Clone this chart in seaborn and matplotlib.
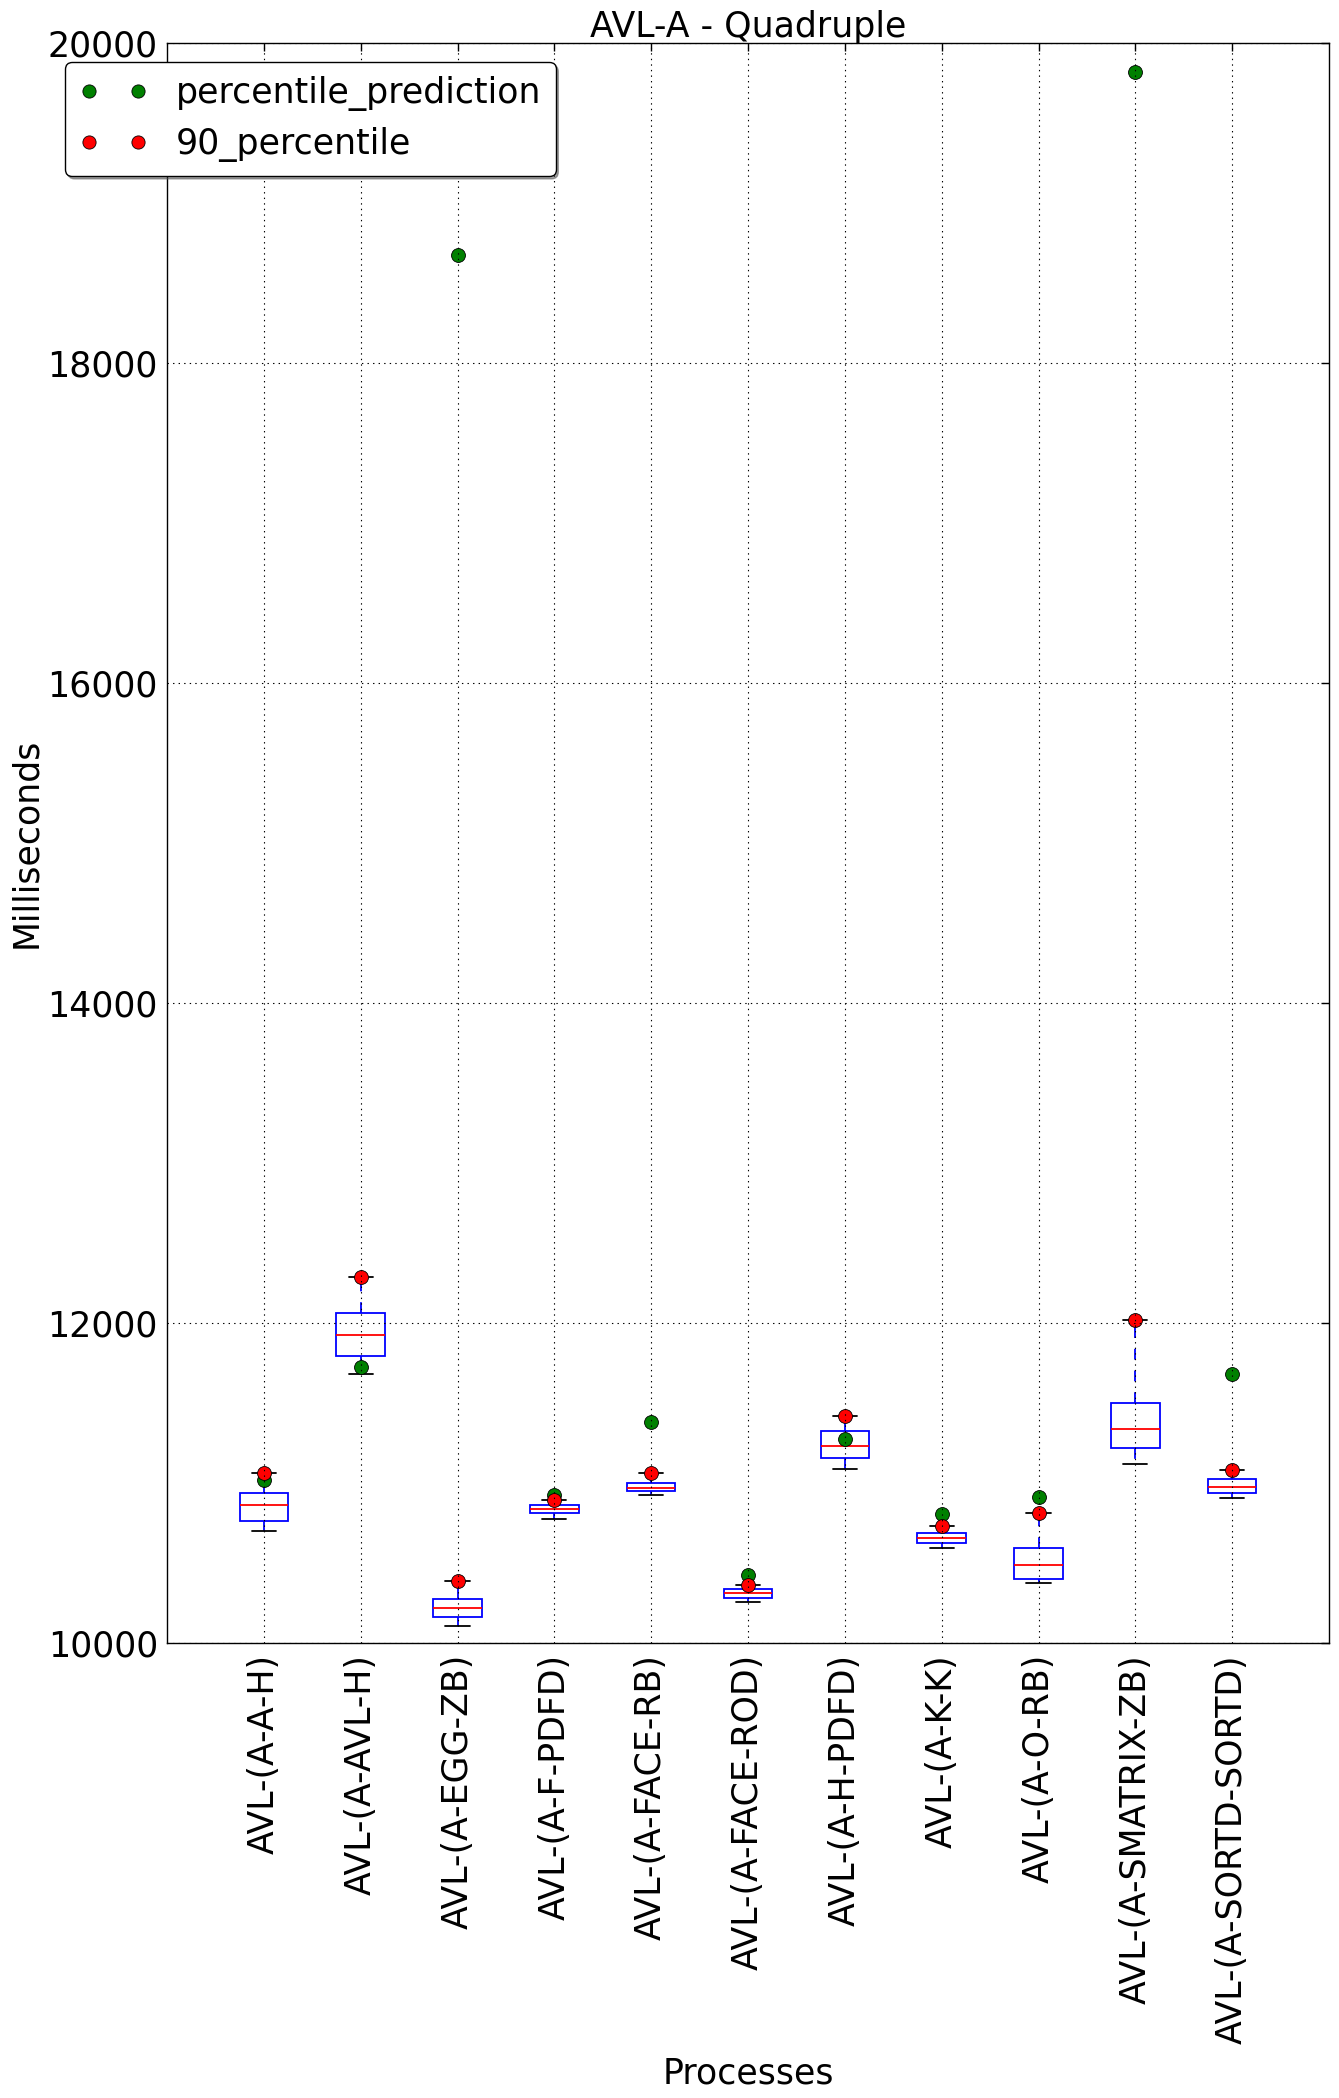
import numpy as np
import pandas as pd
import matplotlib
matplotlib.use("Agg")
import matplotlib.pyplot as plt
from matplotlib.lines import Line2D
import seaborn as sns

# ---------------- data ----------------
processes = [
    "AVL-(A-A-H)", "AVL-(A-AVL-H)", "AVL-(A-EGG-ZB)", "AVL-(A-F-PDFD)",
    "AVL-(A-FACE-RB)", "AVL-(A-FACE-ROD)", "AVL-(A-H-PDFD)", "AVL-(A-K-K)",
    "AVL-(A-O-RB)", "AVL-(A-SMATRIX-ZB)", "AVL-(A-SORTD-SORTD)",
]
whisker_low = [10698, 11679, 10104, 10773, 10923, 10254, 11088, 10592, 10373, 11117, 10904]
q1 = [10760, 11792, 10160, 10810, 10948, 10279, 11154, 10623, 10398, 11221, 10935]
median = [10860, 11923, 10217, 10835, 10969, 10310, 11229, 10654, 10485, 11335, 10973]
q3 = [10935, 12060, 10273, 10860, 10998, 10335, 11323, 10685, 10596, 11498, 11023]
whisker_high = [11060, 12286, 10387, 10896, 11060, 10360, 11417, 10731, 10810, 12019, 11081]
percentile_90 = [11060, 12286, 10387, 10896, 11060, 10360, 11417, 10731, 10810, 12019, 11081]
percentile_prediction = [11019, 11723, 18673, 10923, 11381, 10427, 11273, 10806, 10910, 19819, 11681]
y_ticks = [10000, 12000, 14000, 16000, 18000, 20000]

# ---------------- style ----------------
FS = 25
sns.set_style("white")
plt.rcParams["font.family"] = ["DejaVu Sans"]
plt.rcParams["font.size"] = FS
plt.rcParams["axes.edgecolor"] = "black"
plt.rcParams["axes.linewidth"] = 1.0
plt.rcParams["text.color"] = "black"
plt.rcParams["axes.labelcolor"] = "black"
plt.rcParams["xtick.color"] = "black"
plt.rcParams["ytick.color"] = "black"

# table for seaborn boxplot: five samples per process reproduce the stats
rows = []
for p, a, b, c, d, e in zip(processes, whisker_low, q1, median, q3, whisker_high):
    for v in (a, b, c, d, e):
        rows.append({"process": p, "ms": v})
df = pd.DataFrame(rows)

fig = plt.figure(figsize=(13.39, 20.98), dpi=100)
ax = fig.add_axes([167 / 1339, 1 - 1643 / 2098, (1329 - 167) / 1339, 1600 / 2098])

sns.boxplot(
    data=df, x="process", y="ms", order=processes, ax=ax,
    width=0.5, whis=(0, 100), fill=True, linewidth=1.3,
    boxprops=dict(facecolor="none", edgecolor="blue", linewidth=1.3),
    medianprops=dict(color="red", linewidth=1.3),
    whiskerprops=dict(color="blue", linestyle=(0, (6, 6)), linewidth=1.3),
    capprops=dict(color="black", linewidth=1.3),
    showfliers=False,
)

sns.stripplot(
    x=processes, y=percentile_prediction, order=processes, jitter=False,
    color="green", size=10, edgecolor="black", linewidth=0.6,
    ax=ax, zorder=2.3,
)
sns.stripplot(
    x=processes, y=percentile_90, order=processes, jitter=False,
    color="red", size=10, edgecolor="black", linewidth=0.6,
    ax=ax, zorder=2.4,
)

ax.set_xlim(-1, len(processes))
ax.set_ylim(10000, 20000)
ax.set_yticks(y_ticks)
ax.set_yticklabels([str(t) for t in y_ticks])
ax.set_xticks(range(len(processes)))
ax.set_xticklabels(processes, rotation=90)

ax.set_axisbelow(False)
ax.grid(True, which="major", axis="both", linestyle=(0, (1.25, 3.75)),
        color="black", linewidth=0.8)
ax.tick_params(axis="both", which="major", direction="in", length=6, width=1,
               top=True, right=True, labelsize=FS, color="black")
ax.tick_params(axis="y", pad=6.5)
ax.tick_params(axis="x", pad=8)
for s in ax.spines.values():
    s.set_visible(True)
    s.set_color("black")
    s.set_linewidth(1.0)

ax.set_title("AVL-A - Quadruple", fontsize=FS, pad=4)
ax.set_xlabel("Processes", fontsize=FS)
ax.set_ylabel("Milliseconds", fontsize=FS)
ax.xaxis.set_label_coords(0.5, (1643 - 2057) / 1600)
ax.yaxis.set_label_coords((43 - 167) / 1162, 0.5)

handles = [
    Line2D([], [], marker="o", linestyle="None", markerfacecolor="green",
           markeredgecolor="black", markeredgewidth=0.6, markersize=9.5),
    Line2D([], [], marker="o", linestyle="None", markerfacecolor="red",
           markeredgecolor="black", markeredgewidth=0.6, markersize=9.5),
]
leg = ax.legend(
    handles, ["percentile_prediction", "90_percentile"], numpoints=2,
    loc="upper left", bbox_to_anchor=(65 / 1339, 1 - 62 / 2098),
    bbox_transform=fig.transFigure, borderaxespad=0, fancybox=True,
    shadow=True, framealpha=1, edgecolor="black", fontsize=FS,
    handlelength=2.0, handletextpad=0.8, borderpad=0.4, labelspacing=0.47,
)
leg.get_frame().set_linewidth(1.0)

fig.savefig("out.png", dpi=100, facecolor="white")
